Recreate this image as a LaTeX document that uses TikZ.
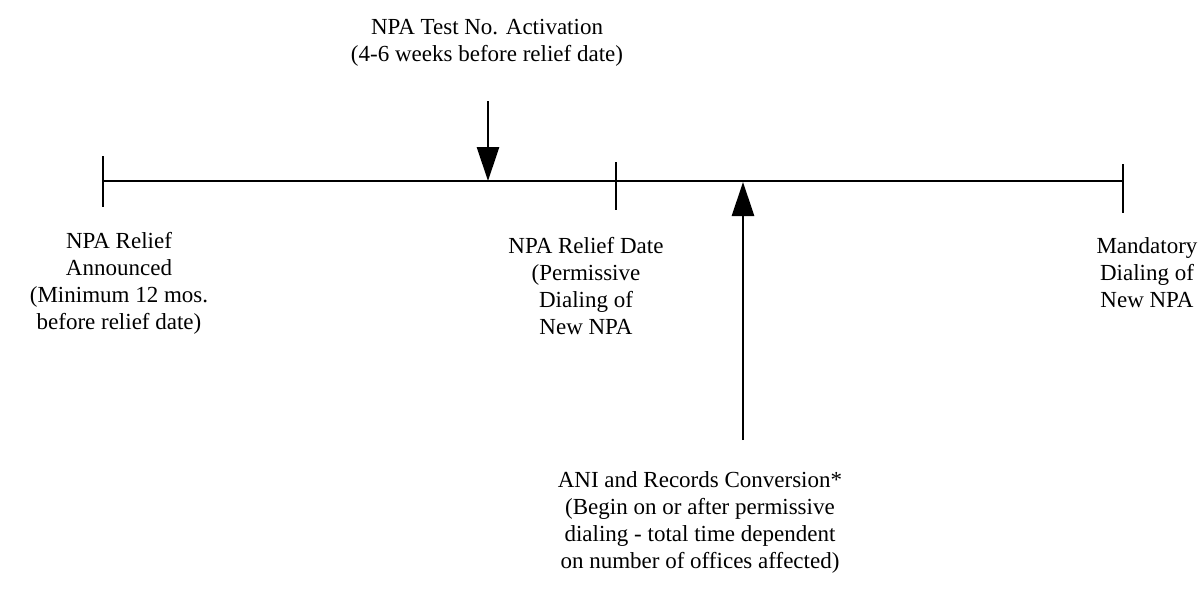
\documentclass[tikz,border=0pt]{standalone}
\usepackage{fontspec}
\setmainfont{Liberation Serif}
\usetikzlibrary{arrows.meta}
\begin{document}
\begin{tikzpicture}[x=1pt,y=-1pt,
  lbl/.style={align=center,inner sep=0pt,font=\fontsize{23}{27}\selectfont},
  tline/.style={line width=2.2pt},
  arr/.style={line width=2.8pt,-{Triangle[length=34pt,width=22pt]}}]
\useasboundingbox (0,0) rectangle (1200,595);
% timeline
\coordinate (L) at (103,181);
\coordinate (M) at (616,181);
\coordinate (R) at (1123,181);
\draw[tline] (L) -- (R);
\draw[tline] (103,156) -- (103,207);
\draw[tline] (616,162) -- (616,210);
\draw[tline] (1123,164) -- (1123,213);
% arrows
\coordinate (dtop) at (488,101);
\coordinate (dtip) at (488,181);
\coordinate (ubot) at (743,440);
\coordinate (utip) at (743,182);
\draw[arr] (dtop) -- (dtip);
\draw[arr] (ubot) -- (utip);
% labels
\node[lbl] (top) at (487,43) {NPA Test No. Activation\\(4-6 weeks before relief date)};
\node[lbl] (left) at (119,283) {NPA Relief\\Announced\\(Minimum 12 mos.\\before relief date)};
\node[lbl] (mid) at (586,286) {NPA Relief Date\\(Permissive\\Dialing of\\New NPA};
\node[lbl] (right) at (1147,273) {Mandatory\\Dialing of\\New NPA};
\node[lbl] (bot) at (700,522) {ANI and Records Conversion*\\(Begin on or after permissive\\dialing - total time dependent\\on number of offices affected)};
\end{tikzpicture}
\end{document}
